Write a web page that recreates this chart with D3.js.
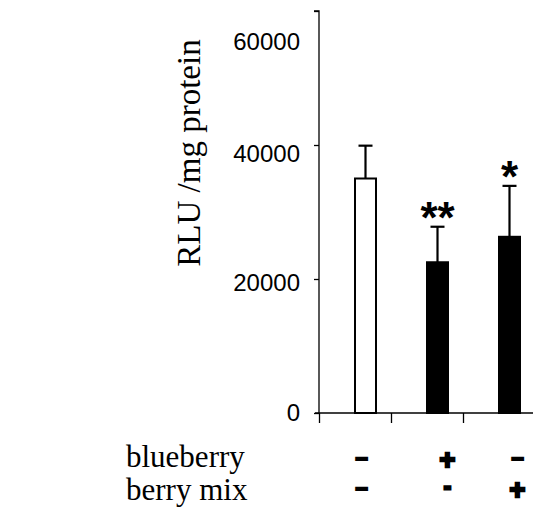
<!DOCTYPE html>
<html>
<head>
<meta charset="utf-8">
<script src="https://cdn.jsdelivr.net/npm/d3@7"></script>
<style>
  body { margin: 0; background: #fff; }
</style>
</head>
<body>
<svg id="chart"></svg>
<script>
// data
const groups = ['control', 'blueberry', 'berry mix'];
const means = [35000, 22500, 26300];
const errors = [4900, 5300, 7600];
const fills = ['#fff', '#000', '#000'];
const stars = ['', '**', '*'];
const yTicks = [0, 20000, 40000, 60000];
const rowLabels = ['blueberry', 'berry mix'];
const blueberrySigns = ['\u2013', '+', '\u2013'];
const berryMixSigns = ['\u2013', '-', '+'];

const W = 533, H = 508;
const svg = d3.select('#chart').attr('width', W).attr('height', H);

const y = d3.scaleLinear().domain([0, 60000]).range([413, 11]);
const x = d3.scaleBand().domain(groups).range([319, 535]).paddingInner(0).paddingOuter(0);
const xEdge = d3.scaleLinear().domain([0, groups.length]).range([319, 535]);
const barW = 21;

// x axis (ticks at category edges)
svg.append('g')
    .attr('transform', `translate(0, ${y(0)})`)
    .call(d3.axisBottom(xEdge).tickValues(d3.range(groups.length + 1)).tickSize(10).tickSizeOuter(0).tickFormat(''))
    .call(g => g.select('.domain').attr('d', `M${xEdge(0) - 4},0H${W + 5}`))
    .selectAll('line, path').attr('stroke', '#000').attr('stroke-width', 1.3);

// y axis
const labelNudge = [0, 4, 9, 31];   // the original labels sit a bit below their ticks
svg.append('g')
    .attr('transform', `translate(${xEdge(0)}, 0)`)
    .call(d3.axisLeft(y).tickValues(yTicks).tickSize(5).tickPadding(14).tickFormat(d3.format('d')))
    .call(g => g.select('.domain').attr('d', `M-5,${y(60000)}H0V${y(0)}`))
    .call(g => g.selectAll('line, path').attr('stroke', '#000').attr('stroke-width', 1.3))
    .call(g => g.selectAll('text')
        .attr('font-family', '"Liberation Sans", Arial, sans-serif')
        .attr('font-size', 24)
        .attr('fill', '#000')
        .attr('dy', (d, i) => (0.32 * 24 + labelNudge[i]) + 'px'));

svg.append('text')
    .attr('transform', `translate(200, ${153}) rotate(-90)`)
    .attr('text-anchor', 'middle')
    .attr('font-family', '"Liberation Serif", "Times New Roman", serif')
    .attr('font-size', 33)
    .text('RLU /mg protein');

const bars = groups.map((g, i) => ({ g, mean: means[i], err: errors[i], fill: fills[i], star: stars[i] }));
const cx = d => x(d.g) + x.bandwidth() / 2 + barW / 2;

// error bars (drawn first, bars cover the lower part)
svg.selectAll('.err')
    .data(bars)
    .join('g')
    .attr('class', 'err')
    .each(function (d) {
        const g = d3.select(this);
        g.append('line')
            .attr('x1', cx(d)).attr('x2', cx(d))
            .attr('y1', y(d.mean)).attr('y2', y(d.mean + d.err))
            .attr('stroke', '#000').attr('stroke-width', 2.2);
        g.append('line')
            .attr('x1', cx(d) - 7).attr('x2', cx(d) + 7)
            .attr('y1', y(d.mean + d.err)).attr('y2', y(d.mean + d.err))
            .attr('stroke', '#000').attr('stroke-width', 2.2);
    });

svg.selectAll('.bar')
    .data(bars)
    .join('rect')
    .attr('class', 'bar')
    .attr('x', d => x(d.g) + x.bandwidth() / 2)
    .attr('y', d => y(d.mean))
    .attr('width', barW)
    .attr('height', d => y(0) - y(d.mean))
    .attr('fill', d => d.fill)
    .attr('stroke', '#000')
    .attr('stroke-width', 2);

svg.selectAll('.star')
    .data(bars)
    .join('text')
    .attr('class', 'star')
    .attr('x', cx)
    .attr('y', d => y(d.mean + d.err) + 6)
    .attr('text-anchor', 'middle')
    .attr('font-family', '"Liberation Sans", Arial, sans-serif')
    .attr('font-weight', 'bold')
    .attr('font-size', 44)
    .text(d => d.star);

// treatment table under the axis
const rowY = [467, 500];
svg.selectAll('.rowlab')
    .data(rowLabels)
    .join('text')
    .attr('class', 'rowlab')
    .attr('x', 126)
    .attr('y', (d, i) => rowY[i])
    .attr('font-family', '"Liberation Serif", "Times New Roman", serif')
    .attr('font-size', 31)
    .text(d => d);

// +/- marks: size and baseline shift depend on the glyph, a stroke thickens them
const signMid = [459, 489];
const signDx = [-4, 10, 8];
const glyph = {
    '\u2013': { size: 22, shift: 6, stroke: 2 },
    '-': { size: 19, shift: 4, stroke: 3.2 },
    '+': { size: 27, shift: 10, stroke: 2.4 }
};
[blueberrySigns, berryMixSigns].forEach((signs, r) => {
    svg.selectAll('.sign' + r)
        .data(signs)
        .join('text')
        .attr('class', 'sign' + r)
        .attr('x', (d, i) => cx(bars[i]) + signDx[i])
        .attr('y', d => signMid[r] + glyph[d].shift)
        .attr('text-anchor', 'middle')
        .attr('font-family', '"Liberation Sans", Arial, sans-serif')
        .attr('font-weight', 'bold')
        .attr('font-size', d => glyph[d].size)
        .attr('stroke', '#000')
        .attr('stroke-width', d => glyph[d].stroke)
        .attr('stroke-linejoin', 'miter')
        .text(d => d);
});
</script>
</body>
</html>
